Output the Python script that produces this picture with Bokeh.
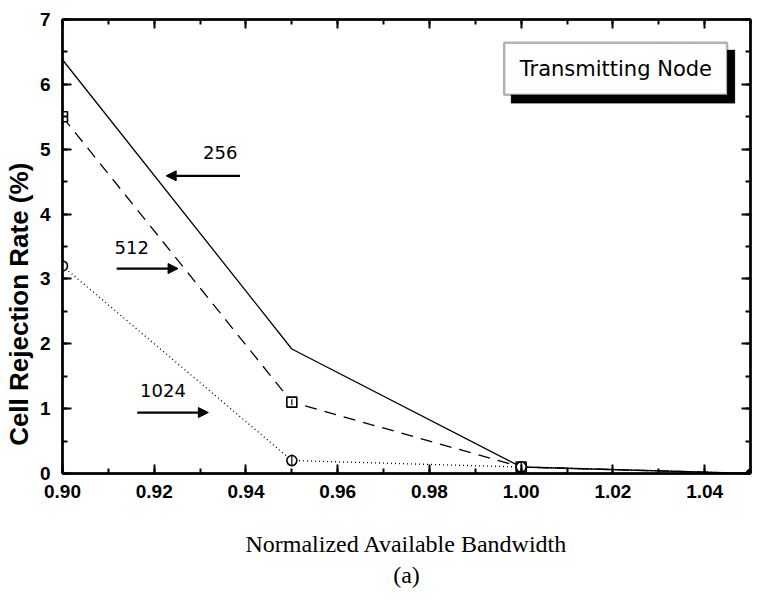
from bokeh.plotting import figure
from bokeh.models import (Range1d, LinearAxis, FixedTicker, NumeralTickFormatter,
                          CustomJSTickFormatter, Arrow, NormalHead, Label,
                          BoxAnnotation, Title)
from bokeh.embed import file_html
from bokeh.resources import INLINE
import numpy as np

# ---- data ----
bandwidth = [0.90, 0.95, 1.00, 1.05]
rate_256 = [6.38, 1.92, 0.10, 0.0]
rate_512 = [5.50, 1.10, 0.10, 0.0]
rate_1024 = [3.20, 0.20, 0.10, 0.0]
x_ticks = [0.90, 0.92, 0.94, 0.96, 0.98, 1.00, 1.02, 1.04]
y_ticks = [0, 1, 2, 3, 4, 5, 6, 7]
series_labels = ["256", "512", "1024"]

p = figure(width=754, height=590, output_backend="svg", toolbar_location=None,
           x_range=Range1d(0.90, 1.05), y_range=Range1d(0, 7),
           min_border_left=60, min_border_right=4, min_border_top=19,
           min_border_bottom=117, x_axis_type=None, y_axis_type=None)
p.xgrid.visible = False
p.ygrid.visible = False
p.outline_line_color = "black"
p.outline_line_width = 2
p.background_fill_color = "white"
p.border_fill_color = "white"

x_minor = list(np.round(np.arange(0.90, 1.051, 0.01), 3))
y_minor = list(np.arange(0, 7.01, 0.5))

def make_axis(ticker_major, minor, formatter):
    ax = LinearAxis(ticker=FixedTicker(ticks=ticker_major, minor_ticks=minor),
                    formatter=formatter)
    ax.axis_line_width = 2.5
    ax.axis_line_color = "black"
    ax.major_tick_in = 9
    ax.major_tick_out = 0
    ax.minor_tick_in = 5
    ax.minor_tick_out = 0
    ax.major_tick_line_width = 2
    ax.minor_tick_line_width = 2
    ax.major_tick_line_color = "black"
    ax.minor_tick_line_color = "black"
    ax.major_label_text_color = "black"
    ax.axis_label_text_color = "black"
    return ax

empty = CustomJSTickFormatter(code="return ''")

xb = make_axis(x_ticks, x_minor, NumeralTickFormatter(format="0.00"))
xb.major_label_text_font = "Liberation Sans"
xb.major_label_text_font_style = "bold"
xb.major_label_text_font_size = "19px"
xb.major_label_standoff = 11
xb.axis_label = "Normalized Available Bandwidth"
xb.axis_label_text_font = "Liberation Serif"
xb.axis_label_text_font_style = "normal"
xb.axis_label_text_font_size = "24px"
xb.axis_label_standoff = 30
p.add_layout(xb, "below")

NBSP = "\u00a0"
yl = make_axis(y_ticks, y_minor, NumeralTickFormatter(format="0"))
yl.major_label_text_font = "Liberation Sans"
yl.major_label_text_font_style = "bold"
yl.major_label_text_font_size = "19px"
yl.major_label_standoff = 12
# trailing non-breaking spaces shift the visible title downward along the axis
yl.axis_label = "Cell Rejection Rate (%)" + NBSP * 16
yl.axis_label_text_font = "Liberation Sans"
yl.axis_label_text_font_style = "bold"
yl.axis_label_text_font_size = "26px"
yl.axis_label_standoff = 3
p.add_layout(yl, "left")

xt = make_axis(x_ticks, x_minor, empty)
xt.major_label_standoff = 0
xt.major_label_text_font_size = "1px"
p.add_layout(xt, "above")

yr = make_axis(y_ticks, y_minor, empty)
yr.major_label_standoff = 0
yr.major_label_text_font_size = "1px"
p.add_layout(yr, "right")

p.add_layout(Title(text="(a)", align="center", text_font="Liberation Serif",
                   text_font_size="24px", text_font_style="normal",
                   text_color="black", standoff=0, offset=0), "below")

# ---- lines ----
p.line(bandwidth, rate_256, line_color="black", line_width=1.3)
p.line(bandwidth, rate_512, line_color="black", line_width=1.3, line_dash="12 8")
p.line(bandwidth, rate_1024, line_color="black", line_width=1.3, line_dash="1 3")

# markers
p.scatter(bandwidth[:3], rate_512[:3], marker="square", size=10,
          fill_color="white", line_color="black", line_width=1.6)
p.scatter(bandwidth[:3], rate_512[:3], marker="dash", size=6, angle=np.pi / 2,
          line_color="black", line_width=1.2)
p.scatter(bandwidth[:3], rate_1024[:3], marker="circle", size=10,
          fill_color="white", line_color="black", line_width=1.6)
p.scatter(bandwidth[:3], rate_1024[:3], marker="dash", size=12, angle=np.pi / 2,
          line_color="black", line_width=1.2)
p.scatter(bandwidth[3:], rate_1024[3:], marker="circle", size=9,
          fill_color="black", line_color="black")

# ---- annotations ----
arrows = [
    (0.9387, 4.59, 0.9226, 4.59),
    (0.9118, 3.16, 0.9252, 3.16),
    (0.9163, 0.94, 0.9318, 0.94),
]
label_pos = [(0.9344, 4.95), (0.9151, 3.48), (0.9219, 1.28)]
for (xs, ys, xe, ye), (lx, ly), txt in zip(arrows, label_pos, series_labels):
    p.add_layout(Arrow(x_start=xs, y_start=ys, x_end=xe, y_end=ye,
                       line_width=2.2, line_color="black",
                       end=NormalHead(size=10, fill_color="black", line_color="black")))
    p.add_layout(Label(x=lx, y=ly, text=txt, text_align="center",
                       text_baseline="middle", text_font="DejaVu Sans",
                       text_font_size="18px", text_color="black"))

# legend box with shadow
p.add_layout(BoxAnnotation(left=0.9978, right=1.0466, top=6.53, bottom=5.71,
                           fill_color="black", fill_alpha=1, line_color="black"))
p.add_layout(BoxAnnotation(left=0.9963, right=1.0449, top=6.64, bottom=5.84,
                           fill_color="white", fill_alpha=1, line_color="black",
                           line_width=2.5))
p.add_layout(Label(x=1.02065, y=6.24, text="Transmitting Node", text_align="center",
                   text_baseline="middle", text_font="DejaVu Sans",
                   text_font_size="21px", text_color="black"))

open("out.html", "w").write(file_html(p, INLINE))
